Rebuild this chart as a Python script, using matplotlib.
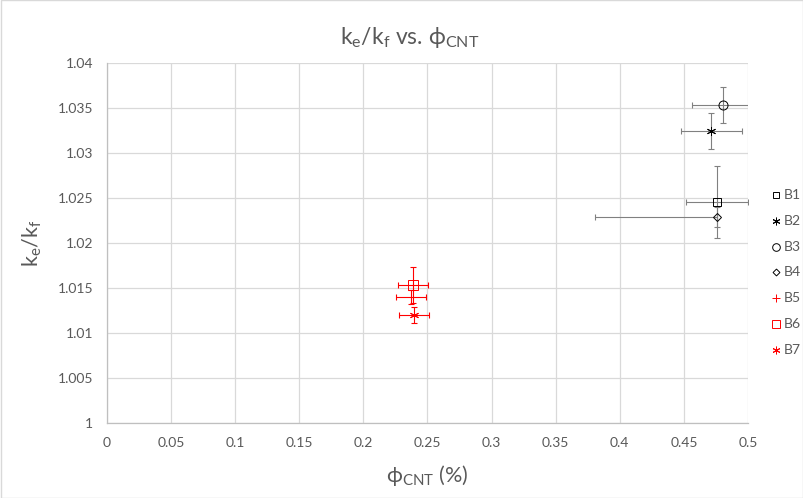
import numpy as np
import matplotlib
matplotlib.use('Agg')
import matplotlib.pyplot as plt

plt.rcParams['font.family'] = ['Lato', 'DejaVu Sans']
plt.rcParams['mathtext.default'] = 'regular'

# data
series = ['B1', 'B2', 'B3', 'B4', 'B5', 'B6', 'B7']
phi = [0.4758, 0.4710, 0.4805, 0.4760, 0.2372, 0.2388, 0.2394]
ke_kf = [1.0246, 1.0324, 1.0353, 1.0229, 1.0140, 1.0153, 1.0120]
xerr_minus = [0.024, 0.0235, 0.024, 0.095, 0.0118, 0.0118, 0.0118]
xerr_plus = [0.024, 0.0240, 0.024, 0.0, 0.0118, 0.0118, 0.0118]
yerr = [0.0040, 0.0020, 0.0020, 0.0011, 0.0008, 0.0020, 0.0009]
markers = ['s', (6, 2, 0), 'o', 'D', '+', 's', (6, 2, 0)]
marker_sizes = [5.5, 6.5, 6.5, 4.5, 6.5, 6.5, 6.5]
colors = ['black', 'black', 'black', 'black', 'red', 'red', 'red']
err_colors = ['#808080', '#808080', '#808080', '#808080', 'red', 'red', 'red']

fig = plt.figure(figsize=(8.04, 4.98), dpi=100)
ax = fig.add_axes([107 / 804, 1 - 423 / 498, 641 / 804, 360 / 498])

for i in range(len(series)):
    ax.errorbar(phi[i], ke_kf[i],
                xerr=[[xerr_minus[i]], [xerr_plus[i]]], yerr=yerr[i],
                fmt='none', ecolor=err_colors[i], elinewidth=0.8,
                capsize=2.5, capthick=0.8, zorder=3)
    ax.plot(phi[i], ke_kf[i], linestyle='none', marker=markers[i],
            markersize=marker_sizes[i], markerfacecolor='none',
            markeredgecolor=colors[i], markeredgewidth=0.7, zorder=4,
            clip_on=False)

ax.set_xlim(0, 0.5)
ax.set_ylim(1, 1.04)
ax.set_xticks(np.arange(0, 0.501, 0.05))
ax.set_yticks(np.arange(1, 1.0401, 0.005))
ax.set_xticklabels(['0', '0.05', '0.1', '0.15', '0.2', '0.25', '0.3',
                    '0.35', '0.4', '0.45', '0.5'])
ax.set_yticklabels(['1', '1.005', '1.01', '1.015', '1.02', '1.025', '1.03',
                    '1.035', '1.04'])
ax.grid(True, color='#D9D9D9', linewidth=0.9)
ax.set_axisbelow(True)
for s in ['top', 'right']:
    ax.spines[s].set_visible(False)
for s in ['left', 'bottom']:
    ax.spines[s].set_color('#BFBFBF')
    ax.spines[s].set_linewidth(0.9)
ax.tick_params(length=0, labelsize=10, labelcolor='#595959', pad=10)

ax.set_xlabel('ϕ$_{CNT}$ (%)', fontsize=15.5, color='#595959', labelpad=10)
ax.set_ylabel('k$_{e}$/k$_{f}$', fontsize=15.5, color='#595959', labelpad=10)
fig.text(410 / 804, 1 - 37 / 498, 'k$_{e}$/k$_{f}$ vs. ϕ$_{CNT}$',
         ha='center', va='center', fontsize=16.5, color='#595959')

# legend at the right edge (nudged left slightly so the labels fit)
leg_y = [195, 221, 247, 272, 298, 324, 350]
for i in range(len(series)):
    fig.add_artist(plt.Line2D([776 / 804], [1 - leg_y[i] / 498],
                              marker=markers[i], markersize=marker_sizes[i] - 1,
                              markerfacecolor='none', markeredgecolor=colors[i],
                              markeredgewidth=0.7, linestyle='none'))
    fig.text(784 / 804, 1 - leg_y[i] / 498, series[i], ha='left',
             va='center', fontsize=10, color='#595959')

# chart area border
fig.add_artist(plt.Rectangle((0.5 / 804, 0.5 / 498), 1 - 1 / 804, 1 - 1 / 498,
                             transform=fig.transFigure, fill=False,
                             edgecolor='#D9D9D9', linewidth=1))

fig.savefig('out.png', dpi=100)
